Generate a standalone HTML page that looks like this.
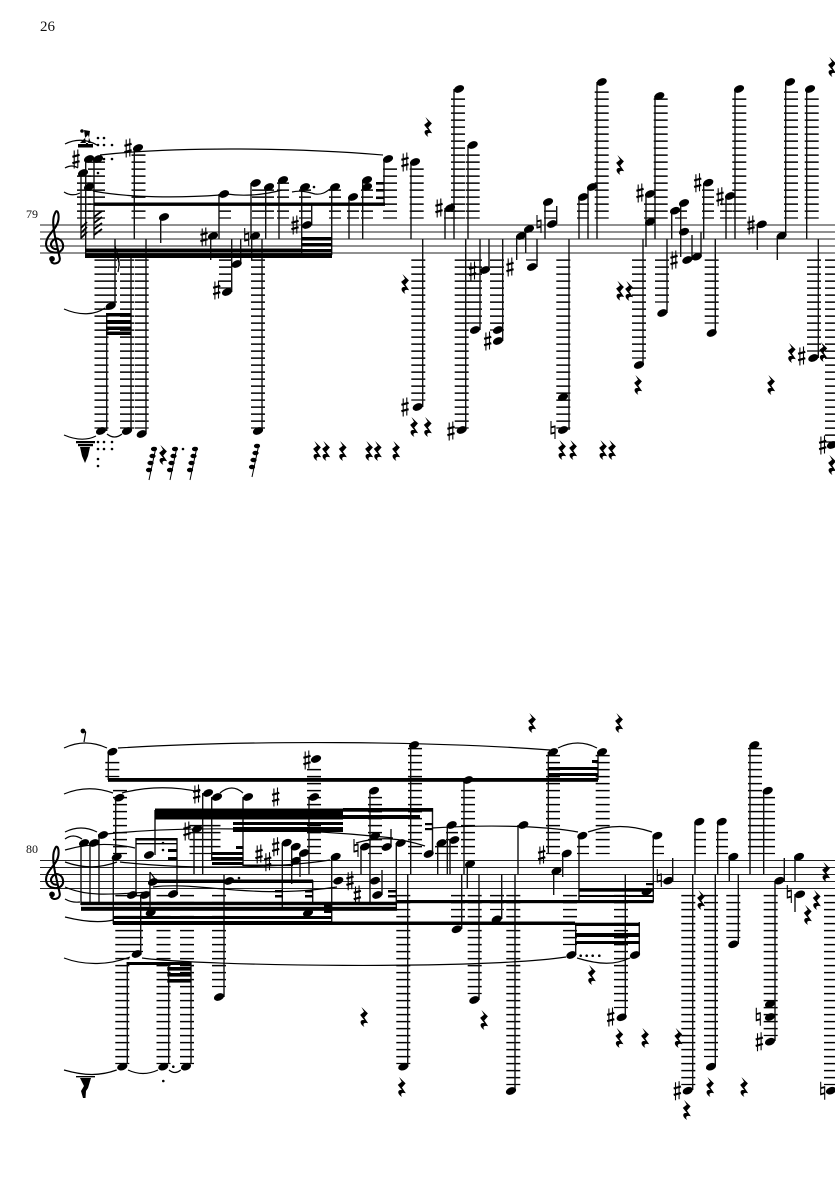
<!DOCTYPE html>
<html><head><meta charset="utf-8"><title>Score page 26</title>
<style>
html,body{margin:0;padding:0;background:#fff}
svg{display:block}
.st{stroke:#222;stroke-width:1.1;fill:none}
.stem{stroke:#111;stroke-width:1.4;fill:none}
.tie{stroke:#000;stroke-width:1.2;fill:none}
.l{stroke:#000;stroke-dasharray:1.5 5.5;fill:none}
.t{font-family:"Liberation Serif",serif;fill:#111}
</style></head><body>
<svg width="835" height="1181" viewBox="0 0 835 1181" xmlns="http://www.w3.org/2000/svg">
<defs>
<ellipse id="n" rx="5.3" ry="3.5" transform="rotate(-22)" fill="#000"/>
<circle id="d" r="1.3" fill="#000"/>
<path id="r" transform="scale(1.3,1.05)" d="M-2-9.5L3-3.5L.2 .5L3.2 6C.5 5-1.5 6 .3 9.5C-4 6.5-3.2 2 .2 3L-3-2L0-5Z" fill="#000"/>
<g id="s" stroke="#000" fill="none"><path d="M-1.8-8.5V9.5M1.8-9.5V8.5" stroke-width="1.1"/><path d="M-3.6-2.2L3.6-4.2M-3.6 4.2L3.6 2.2" stroke-width="2.2"/></g>
<g id="h" stroke="#000" fill="none"><path d="M-2-9V4.5M2-4.5V9" stroke-width="1.1"/><path d="M-2-2.6L2-3.6M-2 3.6L2 2.6" stroke-width="1.8"/></g>
<g id="c" fill="none" stroke="#000"><path d="M0 0C-5 1-8-4-4-8C-1-11 4-9 5-4C6 2 0 4-4 3C-10 2-12-4-9-10C-6-16 1-20 1-29C1-34-1-36-2-33C-5-28-4-20-2-10L2 8C3 13-4 15-6 11" stroke-width="1.9"/><circle cx="-5" cy="9" r="2.6" fill="#000" stroke="none"/></g>
<g id="f" fill="#000" stroke="#000"><path d="M5 0L-2 33" stroke-width="1" fill="none"/><ellipse cx="3" cy="2" rx="2.6" ry="1.8"/><ellipse cx="1.5" cy="9" rx="2.6" ry="1.8"/><ellipse cx="-.5" cy="16" rx="2.6" ry="1.8"/><ellipse cx="-2" cy="23" rx="2.6" ry="1.8"/></g>
</defs>

<text class="t" x="40" y="31" font-size="15">26</text>
<text class="t" x="26" y="218" font-size="12">79</text>
<text class="t" x="26" y="853" font-size="12">80</text>

<!-- staves -->
<path class="st" d="M40 225H835M40 232H835M40 239H835M40 246H835M40 253H835"/>
<path class="st" d="M40 860.5H835M40 867.5H835M40 874.5H835M40 881.5H835M40 888.5H835"/>
<use href="#c" transform="translate(57.5,249) scale(1.1)"/>
<use href="#c" transform="translate(57.5,884.5) scale(1.1)"/>

<!-- ledger stacks system 1 -->
<g class="l">
<path stroke-width="14" d="M84 175.4V218.6"/>
<path stroke-width="17" d="M96.5 161.4V218.6"/>
<path stroke-width="14" d="M138.5 154.4V218.6"/>
<path stroke-width="12" d="M225 203.4V218.6M225 259.4V288.6M258 189.4V218.6M268 189.4V218.6M283 182.4V218.6M305 189.4V218.6M335 189.4V218.6M353 203.4V218.6M367 189.4V218.6M450 210.4V218.6M550 210.4V218.6M583 203.4V218.6M650 203.4V218.6M681 210.4V218.6M708 189.4V218.6M726 203.4V218.6M532 259.4V260.6"/>
<path stroke-width="14" d="M110 259.4V302.6M101.5 259.4V428.6M127 259.4V428.6M141.7 259.4V428.6M258 259.4V428.6M418.3 259.4V400.6M461.7 259.4V428.6M563.3 259.4V428.6"/>
<path stroke-width="14" d="M390 168.4V218.6M416.7 168.4V218.6M458 98.4V218.6M472.7 154.4V218.6M601.7 91.4V218.6M660.7 98.4V218.6M739.3 98.4V218.6M791 91.4V218.6M811.7 98.4V218.6M475 259.4V323.6M497 259.4V330.6M639 259.4V358.6M662 259.4V302.6M711.7 259.4V323.6M814 259.4V351.6M832 259.4V442.6"/>
</g>

<!-- ledger stacks system 2 -->
<g class="l">
<path stroke-width="14" d="M112.3 761.9V777.1M415 747.9V854.1M468 789.9V854.1M553 754.9V854.1M602.7 754.9V854.1M314 768.9V854.1M375 796.9V854.1M755 747.9V854.1M768 796.9V854.1M403.3 894.9V1064.1M458 894.9V924.1M474.7 894.9V994.1M497 894.9V910.1M513.3 894.9V1085.1M570 894.9V945.1M621 894.9V1008.1M688.3 894.9V1085.1M711 894.9V1057.1M733.3 894.9V938.1M770.7 894.9V1036.1M831 894.9V1085.1"/>
<path stroke-width="14" d="M120 789.9V854.1M122.3 894.9V1064.1M136 894.9V952.1M163.5 894.9V1064.1M187 894.9V1064.1M219 894.9V987.1"/>
<path stroke-width="31" d="M205 824.9V854.1"/>
<path stroke-width="12" d="M583 845.9V854.1M658 845.9V854.1M700 831.9V854.1M722 831.9V854.1M441 845.9V854.1M452 831.9V854.1"/>
</g>

<!-- stems -->
<path class="stem" d="M81 173V239M85.7 159V257M94 159V239M134.3 148V239M160.7 217V243M210.7 236V260M219 194V239M240.7 264V239M231.7 292V239M251.7 236V260M251 183V239M262 239V431M265.7 187V239M279 180V239M115 239V305M146 239V432M131 258V431M106.7 313V431M301.7 187V255M331.7 187V255M311.7 225V205M349 197V239M362.7 180V239M384 159V204M411 162V239M422.7 239V407M454 89V239M468 145V239M445 208V239M465.7 239V430M489 270V239M480 330V239M502.7 239V341M516.7 236V260M525.7 229V253M537 239V267M545 202V239M556.7 224V206M569 239V430M579 197V239M588 187V239M597 82V239M646 194V247M655 96V239M643 239V365M667 239V313M671.7 211V239M680.7 203V257M692 260V235M701 257V232M703.7 183V239M715.3 239V333M726 196V239M735 89V239M757.3 224V250M777.3 236V260M785.7 82V236M806.7 89V239M818.3 239V358"/>
<path class="stem" d="M108.3 752V780M115.7 798V860M81 843V905M90 843V905M99 835V905M113.3 860V924M155 855V810M150 872V910M140.7 895V955M136 838V895M177 838V895M194 829V874M202.7 793V874M211.7 797V860M224 875V997M243 797V866M127.3 962V1064M168.7 965V1064M191 962V1064M282.3 843V907M291.7 847V884M300 853V877M309 797V874M331.7 857V925M312.7 880V905M361 847V874M370 791V905M382 895V870M391 847V829M396.3 843V910M410.7 745V874M432.5 808V852M437.7 843V874M447.3 825V874M450 840V874M464 780V874M467.3 864V888M518 825V874M548.3 752V854M553.7 871V895M562.7 853V877M598 752V780M407.7 874V1067M461.7 874V929M479 874V1000M501.7 874V919M515 874V1091M575.7 955V925M579 836V902M625.3 874V1017M639.3 955V922M653.3 836V902M672.7 881V858M692.7 874V1090M695 822V874M715.3 874V1066M717.7 822V874M729.3 857V881M738.3 874V944M750 745V874M763.7 791V874M775 881V1041M784.3 881V858M795 857V881M795 894V912"/>

<!-- tremolo and flag marks -->
<path stroke="#000" stroke-width="1.8" fill="none" d="M81 228L87 222M81 233L87 227M81 238L87 232M94 217L102 211M94 223L102 217M94 229L102 223M94 235L102 229"/>
<path stroke="#000" stroke-width="1.2" fill="none" d="M115 246C117 254 121 258 118 272M115 252C117 258 120 262 119 266M150 872C152 876 155 877 156 882"/>

<!-- beams -->
<g fill="#000">
<rect x="94" y="202.5" width="291" height="3.4"/>
<rect x="85" y="248.5" width="217" height="3.6"/>
<rect x="85" y="253.5" width="247" height="4.5"/>
<rect x="302" y="237" width="30" height="3.5"/><rect x="302" y="243" width="30" height="3.5"/><rect x="302" y="249" width="30" height="3"/>
<rect x="106" y="313" width="25.5" height="3.5"/><rect x="106" y="320" width="25.5" height="4"/><rect x="106" y="326.5" width="25.5" height="3.5"/><rect x="106" y="331.5" width="25.5" height="3.5"/>
<rect x="376" y="182" width="8" height="2.6"/><rect x="376" y="189" width="8" height="2.6"/><rect x="376" y="196.5" width="8" height="2.6"/>

<rect x="108" y="778" width="490" height="3.8"/>
<rect x="548" y="767" width="50" height="3"/><rect x="548" y="773" width="50" height="3"/><rect x="592" y="760" width="6" height="3"/>
<rect x="155" y="808.5" width="188" height="11"/>
<rect x="343" y="808" width="90" height="3.7"/><rect x="343" y="815" width="77" height="4"/>
<rect x="425" y="823" width="7.7" height="2.2"/><rect x="425" y="828" width="7.7" height="2.2"/>
<rect x="233" y="822" width="110" height="3"/><rect x="233" y="827" width="110" height="5"/>
<rect x="212" y="852" width="31" height="3"/><rect x="212" y="857" width="31" height="3"/><rect x="212" y="862" width="31" height="3"/><rect x="236" y="846" width="7" height="3"/><rect x="243" y="864.5" width="50" height="1.6"/>
<rect x="135.5" y="838" width="41.5" height="2.5"/><rect x="135.5" y="843" width="41.5" height="1.4"/><rect x="168" y="849" width="9" height="3"/><rect x="168" y="857" width="9" height="3"/>
<rect x="155" y="879.5" width="158" height="3.5"/>
<rect x="275" y="890" width="8" height="2.5"/><rect x="275" y="895" width="8" height="2.5"/>
<rect x="305" y="890" width="8" height="2.5"/><rect x="305" y="895" width="8" height="2.5"/>
<rect x="324" y="903" width="8" height="10"/>
<rect x="81" y="901.7" width="316" height="3.5"/><rect x="81" y="906.8" width="316" height="4"/>
<rect x="113" y="916" width="218.5" height="3"/><rect x="113" y="921" width="218.5" height="4"/><rect x="331" y="921.5" width="244" height="3.5"/>
<rect x="388" y="890" width="8" height="2.5"/><rect x="388" y="895" width="8" height="2.5"/>
<rect x="397" y="900" width="256.5" height="3.2"/>
<rect x="579" y="888.3" width="74" height="3.4"/><rect x="579" y="895" width="74" height="2"/><rect x="646" y="883" width="7" height="2.2"/>
<rect x="575" y="922.7" width="64.5" height="3.3"/><rect x="575" y="933" width="64.5" height="4"/><rect x="575" y="941" width="64.5" height="3"/>
<rect x="126.7" y="962" width="64.3" height="3"/>
<rect x="167.3" y="967" width="23.7" height="3.6"/><rect x="167.3" y="973" width="23.7" height="3.6"/><rect x="167.3" y="979" width="23.7" height="3.6"/>
</g>

<!-- ties and slurs -->
<path class="tie" d="M65 144Q81 136 97 145M65 168Q72 164 78 168M64 192Q72 197 80 193M93 191C130 198 180 198 220 195M100 155C180 146 300 148 383 155M64 309C80 316 95 315 105 308M64 435C78 441 88 440 96 436M107 434C112 438 117 438 122 434"/>
<path class="tie" d="M227 194C240 196 260 196 282 190M292 192C300 190 308 192 315 194C322 195 326 192 330 189"/>
<path class="tie" d="M64 748Q85 738 107 748M118 748C250 740 430 741 550 750M64 794Q88 784 113 793M122 793Q160 783 200 792M220 793Q232 783 243 793M65 832Q81 824 97 832M65 839Q73 833 82 839M65 850Q100 840 135 848M65 862C85 869 100 868 117 862M65 887C85 896 105 895 150 892M65 899Q72 903 80 902M65 917C85 922 100 923 113 920M98 835C180 825 300 828 393 838M120 862C190 870 280 868 330 860M153 887C200 881 250 900 337 887M558 748Q578 738 597 748M588 832Q620 821 652 832M432 828C480 825 540 825 578 832M142 958C200 966 480 970 566 957M64 958C85 966 110 965 130 957M64 1070C85 1076 100 1076 116.7 1070M128 1070Q143 1077 158 1070M169 1070Q175 1075 180.7 1070M577 958C600 965 615 965 630 958M356 843C380 836 400 838 425 846"/>

<!-- grace clusters -->
<g fill="#000">
<path d="M78 144H93V147.5H78ZM80 143L88 135L91 143ZM84 130L86 144H88L90 131Z"/>
<circle cx="82" cy="131" r="1.8"/>
<path d="M76 441H95V443.2H76ZM78 444H93V446.2H78ZM80 447H90L88 456L85 463L82 456Z"/>
<path d="M76 1076H95V1077.4H76ZM80 1078H91L88 1088L86 1091L85.5 1098L83 1098L81 1091L84 1086Z"/>
<circle cx="83" cy="731" r="2.4"/>
</g>
<path stroke="#000" stroke-width="1.2" fill="none" d="M85.7 732L84 742M83 731L86 732"/>
<g>
<use href="#d" x="98" y="138"/><use href="#d" x="104" y="138"/><use href="#d" x="98" y="145"/><use href="#d" x="104" y="145"/><use href="#d" x="112" y="145"/><use href="#d" x="104" y="159"/><use href="#d" x="112" y="159"/><use href="#d" x="98" y="173"/>
<use href="#d" x="98" y="442"/><use href="#d" x="104" y="442"/><use href="#d" x="112" y="442"/><use href="#d" x="98" y="449"/><use href="#d" x="104" y="449"/><use href="#d" x="112" y="449"/><use href="#d" x="98" y="459"/><use href="#d" x="98" y="466"/><use href="#d" x="183" y="449"/><use href="#d" x="314" y="187"/>
<use href="#d" x="163" y="843"/><use href="#d" x="163" y="850"/><use href="#d" x="239" y="878"/><use href="#d" x="173.3" y="1066.7"/><use href="#d" x="163.3" y="1081"/><use href="#d" x="580.7" y="955.7"/><use href="#d" x="586.7" y="955.7"/><use href="#d" x="592.7" y="955.7"/><use href="#d" x="599.3" y="955.7"/>
</g>
<use href="#f" x="151" y="447"/><use href="#f" x="172" y="447"/><use href="#f" x="192" y="447"/><use href="#f" x="254" y="444"/>

<!-- notes system 1 -->
<g>
<use href="#n" x="83" y="173"/><use href="#n" x="89" y="159"/><use href="#n" x="98" y="159"/><use href="#n" x="89" y="187"/><use href="#n" x="138" y="148"/><use href="#n" x="164" y="217"/><use href="#n" x="213" y="236"/><use href="#n" x="224" y="194"/><use href="#n" x="236.7" y="264"/><use href="#n" x="227" y="292"/><use href="#n" x="255" y="236"/><use href="#n" x="255.7" y="183"/><use href="#n" x="269" y="187"/><use href="#n" x="283" y="180"/><use href="#n" x="110.7" y="306"/><use href="#n" x="101" y="431"/><use href="#n" x="127" y="431"/><use href="#n" x="141.7" y="434"/><use href="#n" x="258" y="431"/>
<use href="#n" x="305" y="187"/><use href="#n" x="335" y="187"/><use href="#n" x="307" y="225"/><use href="#n" x="353" y="197"/><use href="#n" x="367" y="180"/><use href="#n" x="367" y="187"/><use href="#n" x="388" y="159"/><use href="#n" x="415" y="162"/><use href="#n" x="417.7" y="407"/><use href="#n" x="459" y="89"/><use href="#n" x="472.7" y="145"/><use href="#n" x="450" y="208"/><use href="#n" x="461.7" y="430"/><use href="#n" x="485" y="270"/><use href="#n" x="475" y="330"/><use href="#n" x="498" y="330"/><use href="#n" x="498" y="341"/><use href="#n" x="521" y="236"/><use href="#n" x="529" y="229"/><use href="#n" x="532" y="267"/><use href="#n" x="552" y="224"/><use href="#n" x="548" y="202"/><use href="#n" x="563" y="397"/><use href="#n" x="563" y="430"/>
<use href="#n" x="583" y="197"/><use href="#n" x="592" y="187"/><use href="#n" x="601.7" y="82"/><use href="#n" x="650" y="194"/><use href="#n" x="650" y="222"/><use href="#n" x="659.3" y="96"/><use href="#n" x="639" y="365"/><use href="#n" x="662.3" y="313"/><use href="#n" x="675" y="210.7"/><use href="#n" x="684" y="203"/><use href="#n" x="684" y="231.7"/><use href="#n" x="687.3" y="260"/><use href="#n" x="696.7" y="256.7"/><use href="#n" x="708.3" y="182.7"/><use href="#n" x="711.7" y="333"/><use href="#n" x="730" y="196"/><use href="#n" x="739" y="89"/><use href="#n" x="761.7" y="224.3"/><use href="#n" x="781.7" y="235.7"/><use href="#n" x="790" y="82"/><use href="#n" x="810" y="89"/><use href="#n" x="813.3" y="358"/><use href="#n" x="832" y="445"/>
</g>

<!-- notes system 2 -->
<g>
<use href="#n" x="112.3" y="751.7"/><use href="#n" x="119.3" y="797.7"/><use href="#n" x="84" y="843"/><use href="#n" x="94" y="843"/><use href="#n" x="103" y="835"/><use href="#n" x="116.7" y="857"/><use href="#n" x="132" y="895"/><use href="#n" x="145" y="895"/><use href="#n" x="173" y="894"/><use href="#n" x="149" y="855"/><use href="#n" x="153" y="882"/><use href="#n" x="150.7" y="912.7"/><use href="#n" x="197" y="829"/><use href="#n" x="208" y="793"/><use href="#n" x="217" y="797"/><use href="#n" x="229" y="881"/><use href="#n" x="248" y="797"/><use href="#n" x="136.7" y="954"/><use href="#n" x="219" y="997"/><use href="#n" x="122.3" y="1066.7"/><use href="#n" x="163.3" y="1066.7"/><use href="#n" x="186" y="1066.7"/>
<use href="#n" x="286.7" y="842.7"/><use href="#n" x="295.7" y="846.7"/><use href="#n" x="304" y="853"/><use href="#n" x="295.7" y="860.7"/><use href="#n" x="314" y="797"/><use href="#n" x="316" y="759"/><use href="#n" x="335.7" y="856.7"/><use href="#n" x="338.3" y="880.7"/><use href="#n" x="308" y="913"/><use href="#n" x="365" y="846.7"/><use href="#n" x="374" y="790.7"/><use href="#n" x="375" y="836"/><use href="#n" x="375" y="880.7"/><use href="#n" x="377.3" y="895"/><use href="#n" x="386.7" y="847"/><use href="#n" x="400.7" y="843"/><use href="#n" x="414" y="745"/><use href="#n" x="428.7" y="854"/><use href="#n" x="441.5" y="843"/><use href="#n" x="451.7" y="825"/><use href="#n" x="454.3" y="840"/><use href="#n" x="468" y="780"/><use href="#n" x="470" y="864"/><use href="#n" x="523.3" y="825"/><use href="#n" x="553" y="752"/><use href="#n" x="556.5" y="871"/><use href="#n" x="566.7" y="853.5"/><use href="#n" x="602" y="752"/><use href="#n" x="403.3" y="1066.7"/><use href="#n" x="456.7" y="929.3"/><use href="#n" x="474.3" y="1000"/><use href="#n" x="496.7" y="919.3"/><use href="#n" x="511" y="1091"/><use href="#n" x="571.3" y="955"/><use href="#n" x="635" y="955"/>
<use href="#n" x="582.3" y="835.7"/><use href="#n" x="657.3" y="835.7"/><use href="#n" x="646.7" y="891.7"/><use href="#n" x="621.7" y="1017.3"/><use href="#n" x="668.3" y="880.7"/><use href="#n" x="687.7" y="1090.7"/><use href="#n" x="699.3" y="821.7"/><use href="#n" x="721.7" y="821.7"/><use href="#n" x="711" y="1066.7"/><use href="#n" x="733.3" y="856.7"/><use href="#n" x="733.3" y="944.3"/><use href="#n" x="754.3" y="745"/><use href="#n" x="767.7" y="790.7"/><use href="#n" x="779.3" y="880.7"/><use href="#n" x="770" y="1004"/><use href="#n" x="770" y="1017"/><use href="#n" x="770" y="1041.7"/><use href="#n" x="799" y="856.7"/><use href="#n" x="800" y="894.3"/><use href="#n" x="831" y="1090.7"/>
</g>

<!-- accidentals -->
<g>
<use href="#s" x="76" y="159"/><use href="#s" x="128" y="148"/><use href="#s" x="204" y="237"/><use href="#s" x="216.7" y="290"/><use href="#s" x="295" y="225"/><use href="#s" x="405" y="162"/><use href="#s" x="405" y="407"/><use href="#s" x="439" y="208"/><use href="#s" x="451" y="431"/><use href="#s" x="472.7" y="271"/><use href="#s" x="487.7" y="341"/><use href="#s" x="510" y="267"/><use href="#s" x="640" y="193"/><use href="#s" x="674" y="260"/><use href="#s" x="697.7" y="182.7"/><use href="#s" x="720" y="196.7"/><use href="#s" x="751" y="225"/><use href="#s" x="801.7" y="356"/><use href="#s" x="822.7" y="445"/>
<use href="#h" x="246.7" y="237"/><use href="#h" x="539" y="224"/><use href="#h" x="553" y="430"/>
<use href="#s" x="196.7" y="794"/><use href="#s" x="187" y="831"/><use href="#s" x="259" y="854"/><use href="#s" x="267.7" y="861.7"/><use href="#s" x="275.7" y="846.7"/><use href="#s" x="275.7" y="797"/><use href="#s" x="307" y="760"/><use href="#s" x="350" y="880.7"/><use href="#s" x="357.3" y="895"/><use href="#s" x="541.7" y="855"/><use href="#s" x="610.7" y="1017"/><use href="#s" x="677.3" y="1090.7"/><use href="#s" x="759.3" y="1041.7"/>
<use href="#h" x="356" y="848"/><use href="#h" x="659.3" y="878"/><use href="#h" x="758.3" y="1016.7"/><use href="#h" x="789.3" y="894"/><use href="#h" x="822.7" y="1090.7"/>
</g>

<!-- rests -->
<g>
<use href="#r" x="163" y="455"/><use href="#r" x="405" y="284"/><use href="#r" x="428" y="127"/><use href="#r" x="414" y="427"/><use href="#r" x="427.7" y="427"/><use href="#r" x="317" y="451"/><use href="#r" x="326" y="451"/><use href="#r" x="342.7" y="451"/><use href="#r" x="369" y="451"/><use href="#r" x="377.7" y="451"/><use href="#r" x="396" y="451"/><use href="#r" x="562" y="450"/><use href="#r" x="573" y="450"/><use href="#r" x="603" y="450"/><use href="#r" x="612" y="450"/><use href="#r" x="620" y="165"/><use href="#r" x="620" y="290.7"/><use href="#r" x="629" y="291"/><use href="#r" x="638" y="385"/><use href="#r" x="771" y="385"/><use href="#r" x="791.7" y="353"/><use href="#r" x="823.3" y="352"/><use href="#r" x="832" y="67"/><use href="#r" x="832" y="465"/>
<use href="#r" x="532" y="723"/><use href="#r" x="619" y="723"/><use href="#r" x="364" y="1017"/><use href="#r" x="484" y="1020"/><use href="#r" x="401.7" y="1087"/><use href="#r" x="591.7" y="975"/><use href="#r" x="619.3" y="1038"/><use href="#r" x="645" y="1038"/><use href="#r" x="678.3" y="1038"/><use href="#r" x="701" y="900"/><use href="#r" x="686.7" y="1110"/><use href="#r" x="710" y="1087"/><use href="#r" x="744" y="1087"/><use href="#r" x="826" y="872"/><use href="#r" x="816.7" y="900"/><use href="#r" x="807.7" y="915"/>
</g>
</svg>
</body></html>
